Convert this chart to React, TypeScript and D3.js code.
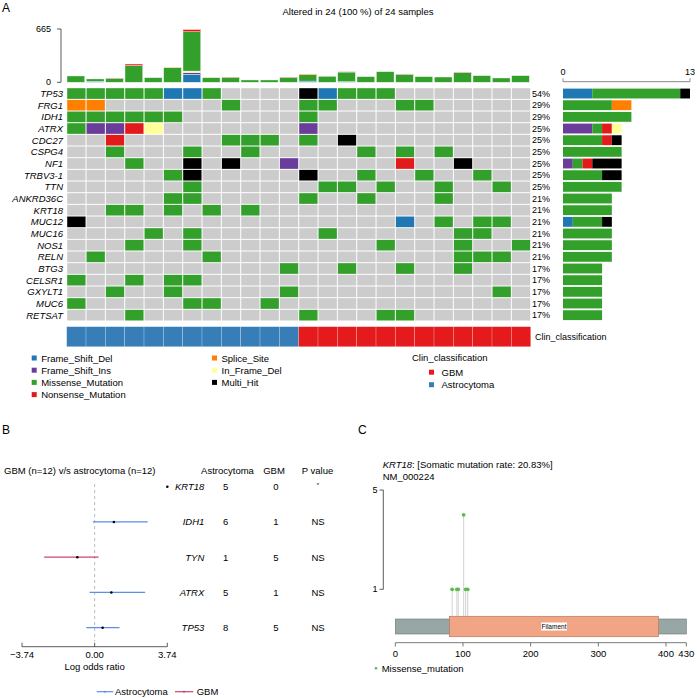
import React from "react";
import * as d3 from "d3";

// ---------- Panel A data ----------
const genes = ["TP53","FRG1","IDH1","ATRX","CDC27","CSPG4","NF1","TRBV3-1","TTN","ANKRD36C","KRT18","MUC12","MUC16","NOS1","RELN","BTG3","CELSR1","GXYLT1","MUC6","RETSAT"];
// one char per sample: B=Frame_Shift_Del P=Frame_Shift_Ins G=Missense R=Nonsense O=Splice Y=In_Frame_Del K=Multi_Hit .=none
const gridRows = [
  "GGGGGBBG....KBGGG.......",
  "OO......G...GG...GG.....",
  "GGGGGG......G...........",
  "GPPRY.......P...........",
  "..R.....GGG.G.K.........",
  "..G...G..G.....G.G.G....",
  "...G..K.K..P.....R..K...",
  ".....GK.....K..G..G..G..",
  "......G......GG.G..G..G.",
  ".....GG.....G..G...G....",
  "..GG.G.G.G..............",
  "K................B.G.GG.",
  "....G.G......G......GG..",
  "...G..G.........G...G..G",
  ".G.....G............GGG.",
  "...........G..G..G..G...",
  "G..G.GG.................",
  "..G..G.....G..........G.",
  "G.....GG..G.............",
  "...G........G...GG......",
];
const clinClass = ["Astrocytoma","Astrocytoma","Astrocytoma","Astrocytoma","Astrocytoma","Astrocytoma","Astrocytoma","Astrocytoma","Astrocytoma","Astrocytoma","Astrocytoma","Astrocytoma","GBM","GBM","GBM","GBM","GBM","GBM","GBM","GBM","GBM","GBM","GBM","GBM"];

const tmbFSD =      [0,12,0,0,0,0,100,0,0,0,0,0,15,0,8,0,0,0,0,0,0,0,0,0];
const tmbFSI =      [0,0,0,0,0,0,22,0,0,0,0,0,0,0,0,0,0,0,0,0,0,0,0,0];
const tmbMissense = [79,30,49,208,58,182,490,58,61,29,29,61,80,75,120,71,133,100,71,66,120,83,54,83];
const tmbNonsense = [0,0,5,20,0,0,30,0,5,0,0,5,0,0,5,0,0,4,0,0,5,0,0,0];
const tmbSplice =   [0,0,0,0,0,5,5,0,0,0,0,0,9,0,0,0,0,0,0,0,0,0,0,0];
const tmbIFD =      [0,0,0,0,0,0,18,0,0,0,0,0,0,0,0,0,0,0,0,0,0,0,0,0];

const variantNames = ["Frame_Shift_Del","Frame_Shift_Ins","Missense_Mutation","Nonsense_Mutation","Splice_Site","In_Frame_Del","Multi_Hit"];
const variantCodes = ["B","P","G","R","O","Y","K"];
const variantColors = ["#1F78B4","#6A3D9A","#33A02C","#E31A1C","#FF7F00","#FFFF99","#000000"];
const clinNames = ["GBM","Astrocytoma"];
const clinColors = ["#E41A1C","#377EB8"];

// ---------- Panel B data ----------
const forestGenes = ["KRT18","IDH1","TYN","ATRX","TP53"];
const forestAstro = [5,6,1,5,8];
const forestGBM = [0,1,5,1,5];
const forestP = ["*","NS","NS","NS","NS"];
const forestEst = [3.74,0.99,-0.89,0.86,0.41];
const forestLo = [null,-0.09,-2.6,-0.26,-0.43];
const forestHi = [null,2.73,0.2,2.6,1.28];
const forestTicks = [-3.74,0,3.74];

// ---------- Panel C data ----------
const lolliPos = [84,91,93,101,104,107];
const lolliCount = [1,1,1,4,1,1];
const proteinLen = 430;
const domainName = "Filament";
const domainStart = 80;
const domainEnd = 389;
const proteinTicks = [0,100,200,300,400,430];

const FONT = "Liberation Sans, Arial, Helvetica, sans-serif";

export default function App() {
  const nS = 24;
  const gx = d3.scaleBand<number>().domain(d3.range(nS)).range([66.7, 530.7]).paddingInner(0);
  const gy = d3.scaleBand<string>().domain(genes).range([87.7, 321]);
  const colW = gx.bandwidth();
  const rowH = gy.bandwidth();
  const colorOf = (c: string) => variantColors[variantCodes.indexOf(c)];

  // top bar
  const ty = d3.scaleLinear().domain([0, 665]).range([82.3, 29]);
  const tmbSeries = [tmbFSD, tmbFSI, tmbMissense, tmbNonsense, tmbSplice, tmbIFD];
  const tmbColors = [variantColors[0], variantColors[1], variantColors[2], variantColors[3], variantColors[4], variantColors[5]];
  const tmbOrder = [0, 1, 5, 2, 3, 4];

  // right bar
  const rx = d3.scaleLinear().domain([0, 13]).range([563, 690]);

  // forest
  const fx = d3.scaleLinear().domain([-3.74, 3.74]).range([22, 167.3]);
  const fy = d3.scalePoint<string>().domain(forestGenes).range([486.7, 627.7]);

  // protein
  const px = d3.scaleLinear().domain([0, proteinLen]).range([395.3, 686.3]);
  const py = d3.scaleLinear().domain([1, 5]).range([589.3, 490]);

  const legendRowsY = [358, 370.2, 382.4, 394.6];

  return (
    <svg width={697} height={698} style={{ position: "absolute", left: 0, top: 0, background: "#fff" }} fontFamily={FONT}>
      <rect width={697} height={698} fill="#fff" />
      {/* Panel labels */}
      <text x={2} y={12} fontSize={12}>A</text>
      <text x={2} y={434} fontSize={12}>B</text>
      <text x={358} y={434} fontSize={12}>C</text>

      <text x={358} y={15} fontSize={9.5} textAnchor="middle">Altered in 24 (100 %) of 24 samples</text>

      {/* top bar axis */}
      <line x1={61} x2={61} y1={ty(665)} y2={ty(0)} stroke="#333" strokeWidth={0.8} />
      {[0, 665].map(v => (
        <g key={v}>
          <line x1={57} x2={61} y1={ty(v)} y2={ty(v)} stroke="#333" strokeWidth={0.8} />
          <text x={51} y={ty(v)} fontSize={9} textAnchor="end" dominantBaseline="central">{v}</text>
        </g>
      ))}
      {d3.range(nS).map(i => {
        let acc = 0;
        return (
          <g key={i}>
            {tmbOrder.map(k => {
              const v = tmbSeries[k][i];
              if (!v) return null;
              const y0 = ty(acc), y1 = ty(acc + v);
              acc += v;
              return <rect key={k} x={gx(i)! + 0.3} width={colW - 1.6} y={y1} height={y0 - y1} fill={tmbColors[k]} stroke="#fff" strokeWidth={0.4} />;
            })}
          </g>
        );
      })}

      {/* grid */}
      {genes.map((g, r) => (
        <g key={g}>
          <text x={63} y={gy(g)! + rowH / 2} fontSize={9.5} fontStyle="italic" textAnchor="end" dominantBaseline="central">{g}</text>
          {gridRows[r].split("").map((c, i) => (
            <rect key={i} x={gx(i)! + 0.5} y={gy(g)! + 0.5} width={colW - 1} height={rowH - 1} fill={c === "." ? "#CCCCCC" : colorOf(c)} />
          ))}
          <text x={532} y={gy(g)! + rowH / 2} fontSize={9} dominantBaseline="central">
            {Math.round((gridRows[r].split("").filter(c => c !== ".").length / nS) * 100) + "%"}
          </text>
          {(() => {
            let acc = 0;
            const chars = gridRows[r].split("");
            return variantCodes.map((code, k) => {
              const n = chars.filter(c => c === code).length;
              if (!n) return null;
              const x0 = rx(acc);
              acc += n;
              return <rect key={code} x={x0} width={rx(acc) - x0} y={gy(g)! + 0.9} height={rowH - 1.8} fill={variantColors[k]} />;
            });
          })()}
        </g>
      ))}

      {/* right axis */}
      <line x1={rx(0)} x2={rx(13)} y1={81.7} y2={81.7} stroke="#888" strokeWidth={1} />
      {[0, 13].map(v => (
        <g key={v}>
          <line x1={rx(v)} x2={rx(v)} y1={78.3} y2={81.7} stroke="#888" strokeWidth={1} />
          <text x={rx(v)} y={72} fontSize={9} textAnchor="middle" dominantBaseline="central">{v}</text>
        </g>
      ))}

      {/* clin bar */}
      {clinClass.map((c, i) => (
        <rect key={i} x={gx(i)!} y={326.7} width={colW} height={20} fill={clinColors[clinNames.indexOf(c)]} stroke="rgba(255,255,255,0.35)" strokeWidth={0.6} />
      ))}
      <text x={535} y={336.7} fontSize={9} dominantBaseline="central">Clin_classification</text>

      {/* legend */}
      {variantNames.map((n, k) => {
        const col = k < 4 ? 0 : 1;
        const row = k < 4 ? k : k - 4;
        const sx = col === 0 ? 31.7 : 212;
        const y = legendRowsY[row];
        return (
          <g key={n}>
            <rect x={sx} y={y - 2.5} width={5} height={5} fill={variantColors[k]} />
            <text x={sx + 9.5} y={y} fontSize={9.5} dominantBaseline="central">{n}</text>
          </g>
        );
      })}
      <text x={412} y={357} fontSize={9.5} dominantBaseline="central">Clin_classification</text>
      {clinNames.map((n, k) => (
        <g key={n}>
          <rect x={429} y={372.2 + k * 12.5 - 2.5} width={5} height={5} fill={clinColors[k]} />
          <text x={441.5} y={372.2 + k * 12.5} fontSize={9.5} dominantBaseline="central">{n}</text>
        </g>
      ))}

      {/* ---------- Panel B ---------- */}
      <text x={4} y={470.7} fontSize={9.5} dominantBaseline="central">GBM (n=12) v/s astrocytoma (n=12)</text>
      <text x={227.5} y={470.7} fontSize={9.5} textAnchor="middle" dominantBaseline="central">Astrocytoma</text>
      <text x={274} y={470.7} fontSize={9.5} textAnchor="middle" dominantBaseline="central">GBM</text>
      <text x={317.5} y={470.7} fontSize={9.5} textAnchor="middle" dominantBaseline="central">P value</text>
      <line x1={fx(0)} x2={fx(0)} y1={484} y2={641} stroke="#aaa" strokeWidth={0.8} strokeDasharray="3,3" />
      {forestGenes.map((g, i) => {
        const y = fy(g)!;
        const col = forestEst[i] > 0 ? "#5B8DEB" : "#C8466B";
        return (
          <g key={g}>
            {forestLo[i] !== null && (
              <line x1={fx(forestLo[i] as number)} x2={fx(forestHi[i] as number)} y1={y} y2={y} stroke={col} strokeWidth={1.2} />
            )}
            <circle cx={fx(forestEst[i])} cy={y} r={1.3} fill="#000" />
            <text x={204.3} y={y} fontSize={9.5} fontStyle="italic" textAnchor="end" dominantBaseline="central">{g}</text>
            <text x={225.7} y={y} fontSize={9.5} textAnchor="middle" dominantBaseline="central">{forestAstro[i]}</text>
            <text x={276} y={y} fontSize={9.5} textAnchor="middle" dominantBaseline="central">{forestGBM[i]}</text>
            <text x={318} y={forestP[i] === "*" ? y - 1.5 : y} fontSize={forestP[i] === "*" ? 6 : 9.5} textAnchor="middle" dominantBaseline="central">{forestP[i]}</text>
          </g>
        );
      })}
      <line x1={fx(-3.74)} x2={fx(3.74)} y1={646.7} y2={646.7} stroke="#333" strokeWidth={0.8} />
      {forestTicks.map(t => (
        <g key={t}>
          <line x1={fx(t)} x2={fx(t)} y1={642.7} y2={646.7} stroke="#333" strokeWidth={0.8} />
          <text x={fx(t)} y={654} fontSize={9.5} textAnchor="middle" dominantBaseline="central">{t < 0 ? "\u2212" + Math.abs(t).toFixed(2) : t.toFixed(2)}</text>
        </g>
      ))}
      <text x={fx(0)} y={666} fontSize={9.5} textAnchor="middle" dominantBaseline="central">Log odds ratio</text>
      <line x1={96.7} x2={113.3} y1={691.7} y2={691.7} stroke="#5B8DEB" strokeWidth={1.2} />
      <circle cx={105} cy={691.7} r={1} fill="#5B8DEB" />
      <text x={115} y={691.7} fontSize={9.5} dominantBaseline="central">Astrocytoma</text>
      <line x1={175} x2={193.3} y1={691.7} y2={691.7} stroke="#C8466B" strokeWidth={1.2} />
      <circle cx={184} cy={691.7} r={1} fill="#C8466B" />
      <text x={196.7} y={691.7} fontSize={9.5} dominantBaseline="central">GBM</text>

      {/* ---------- Panel C ---------- */}
      <text x={382.7} y={464} fontSize={9.5} dominantBaseline="central">
        <tspan fontStyle="italic">KRT18</tspan>: [Somatic mutation rate: 20.83%]
      </text>
      <text x={382.7} y={476.7} fontSize={9.5} dominantBaseline="central">NM_000224</text>
      <line x1={383.3} x2={383.3} y1={py(5)} y2={py(1)} stroke="#333" strokeWidth={0.8} />
      {[5, 1].map(v => (
        <g key={v}>
          <line x1={379.5} x2={383.3} y1={py(v)} y2={py(v)} stroke="#333" strokeWidth={0.8} />
          <text x={377.5} y={py(v)} fontSize={9} textAnchor="end" dominantBaseline="central">{v}</text>
        </g>
      ))}
      {lolliPos.map((p, i) => (
        <line key={"l" + i} x1={px(p)} x2={px(p)} y1={py(lolliCount[i])} y2={616.7} stroke="#c8c8c8" strokeWidth={0.8} />
      ))}
      <rect x={px(0)} y={619} width={px(proteinLen) - px(0)} height={15} fill="#97A7A6" stroke="#6b7474" strokeWidth={0.6} />
      <rect x={px(domainStart)} y={616.3} width={px(domainEnd) - px(domainStart)} height={20.4} fill="#F2A584" stroke="#b9785c" strokeWidth={0.7} />
      <rect x={(px(domainStart) + px(domainEnd)) / 2 - 13} y={622.5} width={26} height={8} fill="#fff" />
      <text x={(px(domainStart) + px(domainEnd)) / 2} y={626.5} fontSize={6.5} textAnchor="middle" dominantBaseline="central">{domainName}</text>
      {lolliPos.map((p, i) => (
        <circle key={"c" + i} cx={px(p)} cy={py(lolliCount[i])} r={1.9} fill="#5DBB4E" />
      ))}
      <line x1={px(0)} x2={px(proteinLen)} y1={642.7} y2={642.7} stroke="#555" strokeWidth={0.8} />
      {proteinTicks.map(t => (
        <g key={t}>
          <line x1={px(t)} x2={px(t)} y1={642.7} y2={646.5} stroke="#555" strokeWidth={0.8} />
          <text x={px(t)} y={653.3} fontSize={9.5} textAnchor="middle" dominantBaseline="central">{t}</text>
        </g>
      ))}
      <circle cx={376} cy={668.3} r={1.3} fill="#5DBB4E" />
      <text x={381.7} y={668.3} fontSize={9.5} dominantBaseline="central">Missense_mutation</text>
    </svg>
  );
}
